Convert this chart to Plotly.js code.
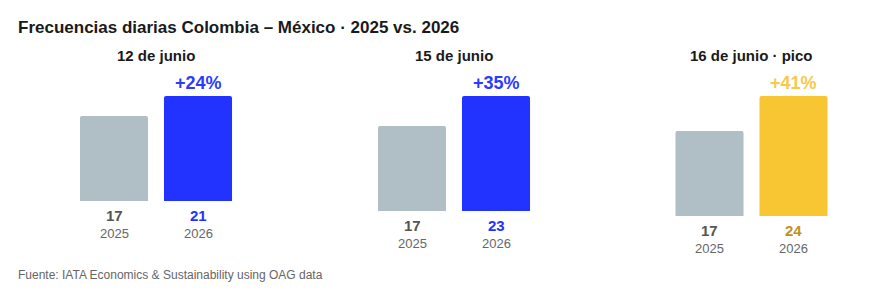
<!DOCTYPE html>
<html>
<head>
<meta charset="utf-8">
<script src="https://cdn.plot.ly/plotly-3.0.1.min.js"></script>
<style>
  html, body { margin: 0; padding: 0; background: #ffffff; }
  #chart { width: 885px; height: 299px; }
</style>
</head>
<body>
<div id="chart"></div>
<script>
// ---- data ----
const panelTitles = ["12 de junio", "15 de junio", "16 de junio · pico"];
const years = ["2025", "2026"];
const values2025 = [17, 17, 17];
const values2026 = [21, 23, 24];
const chartTitle = "Frecuencias diarias Colombia – México · 2025 vs. 2026";
const sourceText = "Fuente: IATA Economics & Sustainability using OAG data";

// ---- styles ----
const W = 885, H = 299;
const FONT = "Liberation Sans, Arial, sans-serif";
const grey = "#b0bec5";
const barColors2026 = ["#2233ff", "#2233ff", "#f9c633"];
const valueColors2026 = ["#2233ff", "#2233ff", "#c4911a"];
const pctColors = ["#2a3cff", "#2a3cff", "#f8c84a"];
const panelX = [[72, 240], [370, 538], [667.5, 835.5]];
const topPx = 96;
const pxPerUnit = 5;

const traces = [];
const annotations = [];
const layout = {
  width: W, height: H,
  margin: {l: 0, r: 0, t: 0, b: 0},
  paper_bgcolor: "#ffffff",
  plot_bgcolor: "#ffffff",
  showlegend: false,
  bargap: 0.19,
  font: {family: FONT},
  annotations: annotations
};

panelTitles.forEach((pt, i) => {
  const n = i === 0 ? "" : String(i + 1);
  const xa = "x" + n, ya = "y" + n;
  const v25 = values2025[i], v26 = values2026[i];
  const maxV = Math.max(v25, v26);
  const bottomPx = topPx + maxV * pxPerUnit;
  traces.push({
    type: "bar",
    x: years,
    y: [v25, v26],
    xaxis: xa, yaxis: ya,
    marker: {color: [grey, barColors2026[i]], cornerradius: 2},
    hoverinfo: "skip"
  });
  layout["xaxis" + n] = {
    domain: [panelX[i][0] / W, panelX[i][1] / W],
    anchor: ya,
    type: "category",
    range: [-0.5, 1.5],
    showticklabels: false, showgrid: false, zeroline: false, showline: false, ticks: "",
    fixedrange: true
  };
  layout["yaxis" + n] = {
    domain: [1 - bottomPx / H, 1 - topPx / H],
    anchor: xa,
    range: [0, maxV],
    showticklabels: false, showgrid: false, zeroline: false, showline: false, ticks: "",
    fixedrange: true
  };
  // panel title
  annotations.push({
    xref: xa + " domain", yref: "paper", x: 0.5, y: 1 - 55 / H,
    xanchor: "center", yanchor: "middle", showarrow: false,
    text: "<b>" + pt + "</b>",
    font: {family: FONT, size: 15, color: "#1a1a1a"}
  });
  // value + year labels
  [v25, v26].forEach((v, j) => {
    annotations.push({
      xref: xa, yref: ya, x: j, y: 0, yshift: -14.5,
      xanchor: "center", yanchor: "middle", showarrow: false,
      text: "<b>" + v + "</b>",
      font: {family: FONT, size: 15, color: j === 0 ? "#555555" : valueColors2026[i]}
    });
    annotations.push({
      xref: xa, yref: ya, x: j, y: 0, yshift: -32.5,
      xanchor: "center", yanchor: "middle", showarrow: false,
      text: years[j],
      font: {family: FONT, size: 13, color: "#666666"}
    });
  });
  // percent change
  const pct = Math.round((v26 / v25 - 1) * 100);
  annotations.push({
    xref: xa, yref: ya, x: 1, y: v26, yshift: 13,
    xanchor: "center", yanchor: "middle", showarrow: false,
    text: "<b>+" + pct + "%</b>",
    font: {family: FONT, size: 18, color: pctColors[i]}
  });
});

annotations.push({
  xref: "paper", yref: "paper", x: 16 / W, y: 1 - 27.5 / H,
  xanchor: "left", yanchor: "middle", showarrow: false,
  text: "<b>" + chartTitle + "</b>",
  font: {family: FONT, size: 17, color: "#1a1a1a"}
});
annotations.push({
  xref: "paper", yref: "paper", x: 16 / W, y: 1 - 274.5 / H,
  xanchor: "left", yanchor: "middle", showarrow: false,
  text: sourceText.replace("&", "&amp;"),
  font: {family: FONT, size: 12, color: "#666666"}
});

Plotly.newPlot("chart", traces, layout, {displayModeBar: false, staticPlot: true});
</script>
</body>
</html>
